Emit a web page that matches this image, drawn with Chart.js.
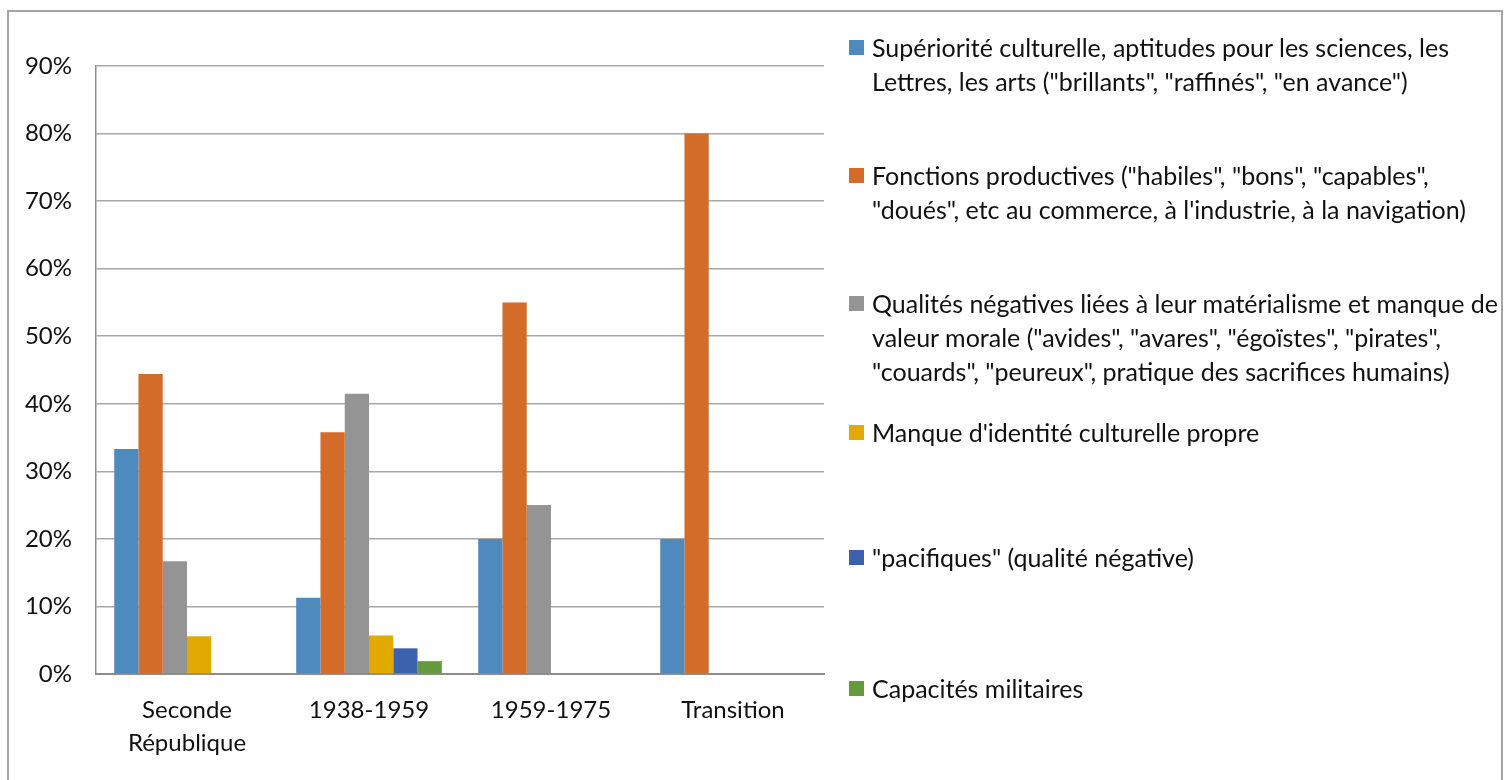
<!DOCTYPE html>
<html lang="fr">
<head>
    <meta charset="UTF-8">
    <title>Qualités attribuées</title>
    <script src="https://cdn.jsdelivr.net/npm/chart.js"></script>
    <style>
        body { margin: 0; background: #fff; font-family: "Lato", sans-serif; }
        #wrap { position: relative; width: 1512px; height: 780px; overflow: hidden; }
        #cadre { position: absolute; left: 7px; top: 10px; width: 1492px; height: 800px; border: 2px solid #a6a6a6; }
        #myChart { position: absolute; left: 0; top: 0; }
        .leg { position: absolute; left: 872px; font-size: 25px; line-height: 34px; color: #111; white-space: nowrap; }
        .leg i { position: absolute; left: -23px; top: 10px; width: 15px; height: 15px; }
    </style>
    <script>
        // données du graphique (pourcentages)
        var periodes = [["Seconde", "République"], "1938-1959", "1959-1975", "Transition"]
        var superiorite = [33.3, 11.3, 20, 20]
        var fonctions = [44.4, 35.8, 55, 80]
        var negatives = [16.7, 41.5, 25, 0]
        var identite = [5.6, 5.7, 0, 0]
        var pacifiques = [0, 3.8, 0, 0]
        var militaires = [0, 1.9, 0, 0]
        var yTicks = [0, 10, 20, 30, 40, 50, 60, 70, 80, 90]
    </script>
</head>
<body>
    <div id="wrap">
        <div id="cadre"></div>
        <canvas id="myChart" width="1512" height="780"></canvas>
        <div class="leg" style="top: 30px;"><i style="background:#4f8abe"></i>Supériorité culturelle, aptitudes pour les sciences, les<br>Lettres, les arts ("brillants", "raffinés", "en avance")</div>
        <div class="leg" style="top: 158px;"><i style="background:#d36c29"></i>Fonctions productives ("habiles", "bons", "capables",<br>"doués", etc au commerce, à l'industrie, à la navigation)</div>
        <div class="leg" style="top: 286px;"><i style="background:#949494"></i>Qualités négatives liées à leur matérialisme et manque de<br>valeur morale ("avides", "avares", "égoïstes", "pirates",<br>"couards", "peureux", pratique des sacrifices humains)</div>
        <div class="leg" style="top: 415px;"><i style="background:#e2aa00"></i>Manque d'identité culturelle propre</div>
        <div class="leg" style="top: 540px;"><i style="background:#3d62ad"></i>"pacifiques" (qualité négative)</div>
        <div class="leg" style="top: 671px;"><i style="background:#629a3d"></i>Capacités militaires</div>
    </div>
    <script>
        var couleurs = ["#4f8abe", "#d36c29", "#949494", "#e2aa00", "#3d62ad", "#629a3d"]
        var series = [superiorite, fonctions, negatives, identite, pacifiques, militaires]
        var noms = [
            "Supériorité culturelle",
            "Fonctions productives",
            "Qualités négatives",
            "Manque d'identité culturelle propre",
            "\"pacifiques\" (qualité négative)",
            "Capacités militaires"
        ]
        var datasets = []
        for (var i = 0; i < series.length; i++) {
            datasets.push({
                label: noms[i],
                data: series[i],
                backgroundColor: couleurs[i],
                borderWidth: 0,
                barPercentage: 1,
                categoryPercentage: 0.8
            })
        }

        var ctx = document.getElementById('myChart').getContext('2d');
        var myChart = new Chart(ctx, {
            type: 'bar',
            data: { labels: periodes, datasets: datasets },
            options: {
                responsive: false,
                animation: false,
                layout: { padding: { left: 0, top: 66, right: 688, bottom: 0 } },
                plugins: { legend: { display: false }, tooltip: { enabled: false } },
                scales: {
                    x: {
                        grid: { display: false, drawTicks: false },
                        border: { color: '#8c8c8c', width: 2 },
                        ticks: {
                            color: '#111',
                            padding: 19,
                            maxRotation: 0,
                            font: { family: 'Lato', size: 24, lineHeight: 1.4 }
                        },
                        afterFit: function (s) { s.height = 106 }
                    },
                    y: {
                        min: 0,
                        max: 90,
                        afterBuildTicks: function (s) { s.ticks = yTicks.map(function (v) { return { value: v } }) },
                        grid: { color: '#a8a8a8', lineWidth: 1.5, drawTicks: false },
                        border: { color: '#8c8c8c', width: 1.5 },
                        ticks: {
                            color: '#111',
                            padding: 24,
                            font: { family: 'Lato', size: 24 },
                            callback: function (v) { return v + '%' }
                        },
                        afterFit: function (s) { s.width = 96 }
                    }
                }
            }
        });
    </script>
</body>
</html>
